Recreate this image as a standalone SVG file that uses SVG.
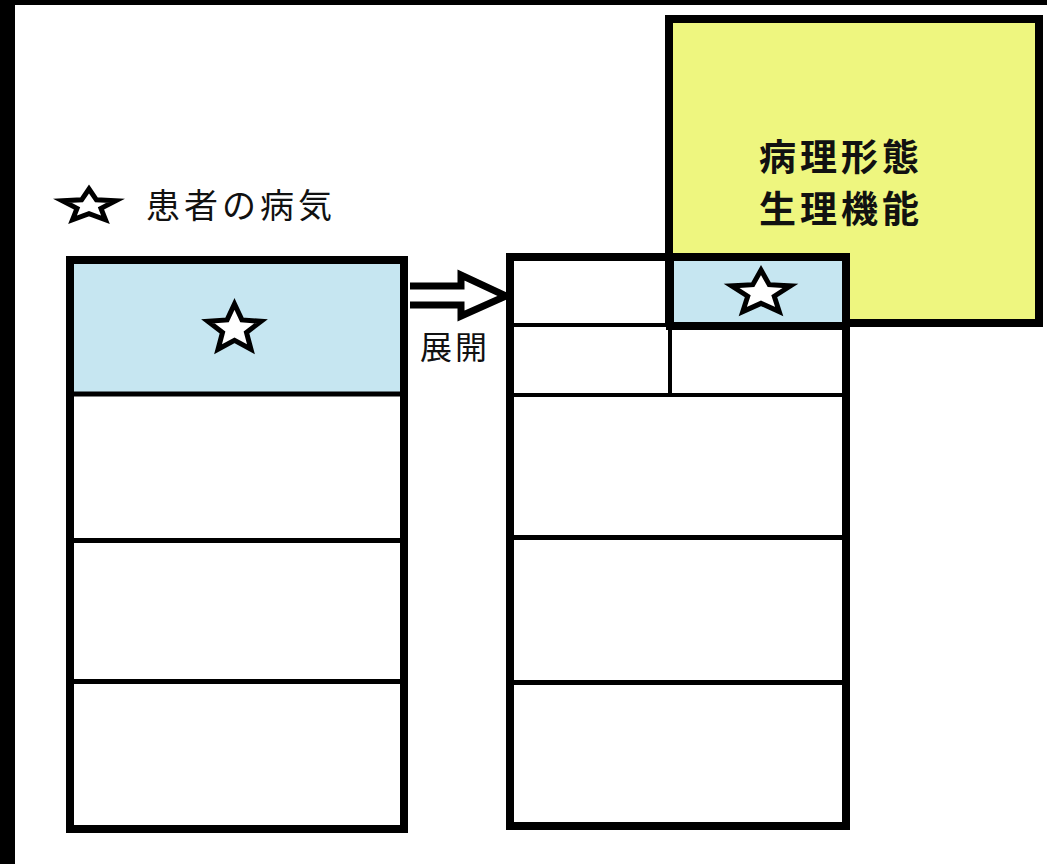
<svg xmlns="http://www.w3.org/2000/svg" width="1047" height="864" viewBox="0 0 1047 864">
<style>
.box{fill:#fff;stroke:#000;stroke-width:8}
.div{stroke:#000;stroke-width:5;fill:none}
.div4{stroke:#000;stroke-width:4;fill:none}
.star{fill:#fff;stroke:#000;stroke-width:5;stroke-linejoin:miter;stroke-miterlimit:5}
.blue{fill:#c6e6f1}
.jp{font-family:"Noto Sans CJK JP","Noto Sans CJK SC",sans-serif;fill:#111}
</style>
<rect x="0" y="0" width="1047" height="864" fill="#fff"/>
<rect x="0" y="0" width="1047" height="5" fill="#000"/>
<rect x="0" y="0" width="15" height="864" fill="#000"/>

<g id="legend">
<polygon class="star" points="89,189 96.41,199.81 115.63,200.75 100.98,208.36 105.46,219.75 89,213.65 72.54,219.75 77.02,208.36 62.37,200.75 81.59,199.81"/>
<text class="jp" x="146" y="218" font-size="34" letter-spacing="4">患者の病気</text>
</g>

<g id="left-box">
<rect x="70" y="260" width="334" height="569" class="box"/>
<rect x="74" y="264" width="326" height="128" class="blue"/>
<line class="div" x1="73" y1="394" x2="401" y2="394"/>
<line class="div" x1="73" y1="540.5" x2="401" y2="540.5"/>
<line class="div" x1="73" y1="681.5" x2="401" y2="681.5"/>
<polygon class="star" points="234.5,304 241.91,319.9 261.13,321.27 246.48,332.48 250.96,349.23 234.5,340.25 218.04,349.23 222.52,332.48 207.87,321.27 227.09,319.9"/>
</g>

<g id="connectors">
<path d="M410,286 H461 V275 L506,296 L461,316 V305 H410" fill="#fff" stroke="#000" stroke-width="7" stroke-linejoin="miter"/>
<text class="jp" x="420" y="359" font-size="32" letter-spacing="3">展開</text>
</g>

<g id="right-box">
<rect x="510" y="257" width="336" height="569" class="box"/>
<line class="div4" x1="514" y1="325" x2="670" y2="325"/>
<line class="div4" x1="670" y1="325" x2="670" y2="395"/>
<line class="div4" x1="514" y1="395" x2="842" y2="395"/>
<line class="div" x1="514" y1="537.5" x2="842" y2="537.5"/>
<line class="div" x1="514" y1="682.5" x2="842" y2="682.5"/>
</g>

<g id="yellow-box">
<rect x="669" y="19" width="370" height="304" fill="#eef67f" stroke="#000" stroke-width="8"/>
<text class="jp" x="759" y="171" font-size="37" font-weight="bold" letter-spacing="4">病理形態</text>
<text class="jp" x="759" y="223" font-size="37" font-weight="bold" letter-spacing="4">生理機能</text>
</g>

<g id="star-cell">
<rect x="670" y="257" width="176" height="69" fill="#c6e6f1" stroke="#000" stroke-width="8"/>
<polygon class="star" points="761,270 769.2,284.63 790.48,285.89 774.27,296.2 779.22,311.61 761,303.35 742.78,311.61 747.73,296.2 731.52,285.89 752.8,284.63"/>
</g>
</svg>
